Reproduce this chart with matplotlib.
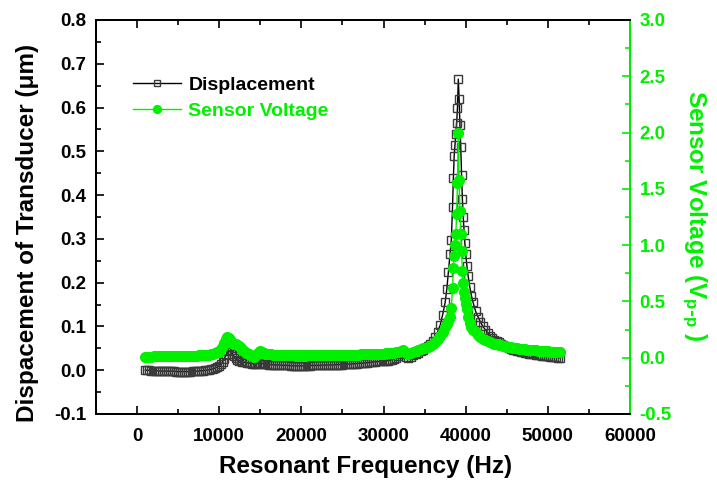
import matplotlib
matplotlib.use("Agg")
import matplotlib.pyplot as plt
from matplotlib.ticker import MultipleLocator, FormatStrFormatter

GREEN = '#00F000'

# frequency grid (Hz), shared by both series
freq = [
    1000, 1250, 1500, 1750, 2000, 2250, 2500, 2750, 3000, 3250,
    3500, 3750, 4000, 4250, 4500, 4750, 5000, 5250, 5500, 5750,
    6000, 6250, 6500, 6750, 7000, 7250, 7500, 7750, 8000, 8250,
    8500, 8750, 9000, 9250, 9500, 9750, 10000,
    10200, 10400, 10600, 10800, 11000, 11200, 11400, 11600, 11800, 12000,
    12200, 12400, 12600, 12800, 13000, 13200, 13400, 13600, 13800, 14000,
    14200, 14400, 14600, 14800, 15000, 15200, 15400, 15600, 15800, 16000,
    16250, 16500, 16750, 17000, 17250, 17500, 17750, 18000, 18250, 18500,
    18750, 19000, 19250, 19500, 19750, 20000, 20250, 20500, 20750, 21000,
    21250, 21500, 21750, 22000, 22250, 22500, 22750, 23000, 23250, 23500,
    23750, 24000, 24250, 24500, 24750, 25000, 25250, 25500, 25750, 26000,
    26250, 26500, 26750, 27000, 27250, 27500, 27750, 28000, 28250, 28500,
    28750, 29000, 29250, 29500, 29750, 30000, 30250, 30500, 30750, 31000,
    31250, 31500,
    31800, 32100, 32400, 32700, 33000, 33300, 33600, 33900, 34200, 34500,
    34800, 35100, 35400, 35700, 36000, 36300, 36600, 36900, 37200, 37500,
    37700, 37900, 38100, 38250, 38400, 38500, 38600, 38700, 38800, 38900,
    39000, 39100, 39200, 39300, 39400, 39500, 39600, 39700, 39800, 39900,
    40000, 40150, 40300, 40500, 40700, 40900, 41200, 41500, 41800, 42100,
    42400, 42700, 43000,
    43250, 43500, 43750, 44000, 44250, 44500, 44750, 45000, 45250, 45500,
    45750, 46000, 46250, 46500, 46750, 47000, 47250, 47500, 47750, 48000,
    48250, 48500, 48750, 49000, 49250, 49500, 49750, 50000, 50250, 50500,
    50750, 51000, 51250, 51500,
]

# displacement of transducer (um)
displacement = [
    0.000, 0.000, 0.000, -0.001, -0.001, -0.001, -0.001, -0.002, -0.002, -0.002,
    -0.002, -0.002, -0.002, -0.002, -0.002, -0.003, -0.003, -0.003, -0.003, -0.003,
    -0.003, -0.003, -0.003, -0.002, -0.002, -0.002, -0.002, -0.001, -0.001, 0.000,
    0.000, 0.001, 0.002, 0.003, 0.005, 0.007, 0.010,
    0.014, 0.019, 0.025, 0.034, 0.044, 0.052, 0.047, 0.038, 0.032, 0.027,
    0.024, 0.022, 0.020, 0.019, 0.018, 0.018, 0.017, 0.016, 0.016, 0.015,
    0.015, 0.014, 0.015, 0.016, 0.016, 0.015, 0.015, 0.014, 0.014, 0.013,
    0.013, 0.013, 0.012, 0.012, 0.012, 0.012, 0.011, 0.011, 0.011, 0.011,
    0.010, 0.010, 0.010, 0.010, 0.010, 0.010, 0.010, 0.010, 0.010, 0.010,
    0.011, 0.011, 0.011, 0.011, 0.011, 0.011, 0.012, 0.012, 0.012, 0.012,
    0.012, 0.012, 0.013, 0.013, 0.013, 0.013, 0.014, 0.014, 0.014, 0.014,
    0.015, 0.015, 0.015, 0.016, 0.016, 0.016, 0.017, 0.017, 0.018, 0.018,
    0.019, 0.019, 0.020, 0.020, 0.021, 0.021, 0.022, 0.022, 0.023, 0.024,
    0.026, 0.028,
    0.032, 0.037, 0.038, 0.030, 0.027, 0.031, 0.034, 0.037, 0.040, 0.043,
    0.047, 0.051, 0.055, 0.060, 0.067, 0.076, 0.088, 0.103, 0.127, 0.155,
    0.185, 0.225, 0.265, 0.297, 0.373, 0.440, 0.490, 0.515, 0.540, 0.565,
    0.600, 0.665, 0.620, 0.560, 0.510, 0.445, 0.390, 0.350, 0.320, 0.290,
    0.265, 0.238, 0.215, 0.190, 0.170, 0.155, 0.135, 0.122, 0.110, 0.100,
    0.092, 0.085, 0.078,
    0.074, 0.070, 0.067, 0.064, 0.061, 0.058, 0.055, 0.053, 0.051, 0.049,
    0.047, 0.046, 0.044, 0.043, 0.042, 0.041, 0.040, 0.039, 0.038, 0.037,
    0.036, 0.035, 0.035, 0.034, 0.033, 0.033, 0.032, 0.032, 0.031, 0.031,
    0.030, 0.030, 0.029, 0.028,
]

# sensor voltage (V p-p)
voltage = [
    0.010, 0.010, 0.010, 0.010, 0.011, 0.011, 0.011, 0.011, 0.012, 0.012,
    0.012, 0.012, 0.013, 0.013, 0.013, 0.013, 0.014, 0.014, 0.015, 0.015,
    0.016, 0.016, 0.017, 0.017, 0.018, 0.019, 0.020, 0.021, 0.022, 0.023,
    0.025, 0.027, 0.030, 0.034, 0.040, 0.047, 0.055,
    0.075, 0.100, 0.130, 0.165, 0.185, 0.175, 0.150, 0.130, 0.120, 0.120,
    0.115, 0.100, 0.082, 0.068, 0.056, 0.046, 0.038, 0.030, 0.022, 0.014,
    0.008, 0.015, 0.035, 0.055, 0.058, 0.048, 0.040, 0.035, 0.032, 0.030,
    0.029, 0.028, 0.027, 0.026, 0.026, 0.025, 0.025, 0.024, 0.024, 0.024,
    0.023, 0.023, 0.023, 0.023, 0.022, 0.022, 0.022, 0.022, 0.022, 0.022,
    0.022, 0.022, 0.022, 0.022, 0.022, 0.023, 0.023, 0.023, 0.023, 0.023,
    0.024, 0.024, 0.024, 0.024, 0.025, 0.025, 0.025, 0.026, 0.026, 0.026,
    0.027, 0.027, 0.028, 0.028, 0.029, 0.029, 0.030, 0.030, 0.031, 0.031,
    0.032, 0.033, 0.034, 0.035, 0.036, 0.037, 0.038, 0.039, 0.041, 0.043,
    0.045, 0.048,
    0.052, 0.062, 0.065, 0.045, 0.035, 0.042, 0.050, 0.058, 0.066, 0.074,
    0.082, 0.090, 0.098, 0.108, 0.120, 0.140, 0.165, 0.195, 0.230, 0.270,
    0.300, 0.330, 0.360, 0.440, 0.620, 0.800, 0.900, 1.000, 1.100, 1.280,
    1.550, 2.000, 1.580, 1.300, 1.100, 0.950, 0.770, 0.660, 0.580, 0.530,
    0.480, 0.430, 0.360, 0.310, 0.275, 0.250, 0.225, 0.200, 0.180, 0.165,
    0.155, 0.145, 0.138,
    0.131, 0.125, 0.120, 0.115, 0.110, 0.106, 0.102, 0.098, 0.094, 0.091,
    0.088, 0.085, 0.082, 0.080, 0.078, 0.076, 0.074, 0.072, 0.070, 0.068,
    0.066, 0.065, 0.063, 0.062, 0.060, 0.059, 0.057, 0.056, 0.054, 0.053,
    0.051, 0.050, 0.048, 0.047,
]

assert len(freq) == len(displacement) == len(voltage)

plt.rcParams.update({
    "font.family": "sans-serif",
    "font.sans-serif": ["Liberation Sans", "DejaVu Sans"],
    "font.weight": "bold",
    "font.size": 13.5,
    "axes.unicode_minus": False,
    "axes.linewidth": 1.4,
    "mathtext.default": "regular",
})

fig = plt.figure(figsize=(7.17, 4.83), dpi=100)
ax = fig.add_axes([96 / 717, 69 / 483, 534 / 717, 394 / 483])
ax2 = ax.twinx()

l1, = ax.plot(freq, displacement, color='black', linewidth=1.0,
              marker='s', markersize=6, markerfacecolor='none',
              markeredgecolor='#3a3a3a', markeredgewidth=1.0)
l2, = ax2.plot(freq, voltage, color=GREEN, linewidth=1.0,
               marker='o', markersize=7, markerfacecolor=GREEN,
               markeredgecolor=GREEN)

ax.set_xlim(-5000, 60000)
ax.set_ylim(-0.1, 0.8)
ax2.set_ylim(-0.5, 3.0)

ax.xaxis.set_major_locator(MultipleLocator(10000))
ax.xaxis.set_minor_locator(MultipleLocator(5000))
ax.yaxis.set_major_locator(MultipleLocator(0.1))
ax.yaxis.set_minor_locator(MultipleLocator(0.05))
ax.yaxis.set_major_formatter(FormatStrFormatter('%.1f'))
ax2.yaxis.set_major_locator(MultipleLocator(0.5))
ax2.yaxis.set_minor_locator(MultipleLocator(0.25))
ax2.yaxis.set_major_formatter(FormatStrFormatter('%.1f'))

ax.tick_params(which='both', direction='in', top=True, right=False, width=1.2,
               labelsize=13.5)
ax.tick_params(which='major', length=6, pad=7)
ax.tick_params(axis='x', which='major', pad=10)
ax.tick_params(which='minor', length=3.5)
ax2.tick_params(which='both', direction='in', colors=GREEN, width=1.2,
                labelsize=13.5)
ax2.tick_params(which='major', length=6, pad=7)
ax2.tick_params(which='minor', length=3.5)
for lab in ax.get_xticklabels() + ax.get_yticklabels() + ax2.get_yticklabels():
    lab.set_fontweight('bold')
ax2.spines['right'].set_color(GREEN)

# Axis labels
ax.set_xlabel("Resonant Frequency (Hz)", fontsize=17.5, fontweight='bold')
ax.xaxis.set_label_coords(0.505, -0.1345)
ax.xaxis.label.set_va('center')
ax.set_ylabel("Dispacement of Transducer (\u03bcm)", fontsize=17.5, fontweight='bold')
ax.yaxis.set_label_coords(-0.129, 0.459)
ax.yaxis.label.set_va('center')
ax2.set_ylabel(r"Sensor Voltage (V$_{p\text{-}p}$ )", fontsize=17.5,
               fontweight='bold', color=GREEN, rotation=270)
ax2.yaxis.set_label_coords(1.12, 0.5025)
ax2.yaxis.label.set_va('center')
ax2.yaxis.label.set_ha('center')

# Legend
ax2.legend([l1, l2], ["Displacement", "Sensor Voltage"], loc='upper left',
           bbox_to_anchor=(0.069, 0.858), frameon=False, borderpad=0,
           borderaxespad=0, handlelength=2.5, handletextpad=0.35,
           labelspacing=0.45, markerscale=0.8,
           labelcolor=['black', GREEN], prop={'weight': 'bold', 'size': 14})

fig.savefig("out.png", dpi=100)
